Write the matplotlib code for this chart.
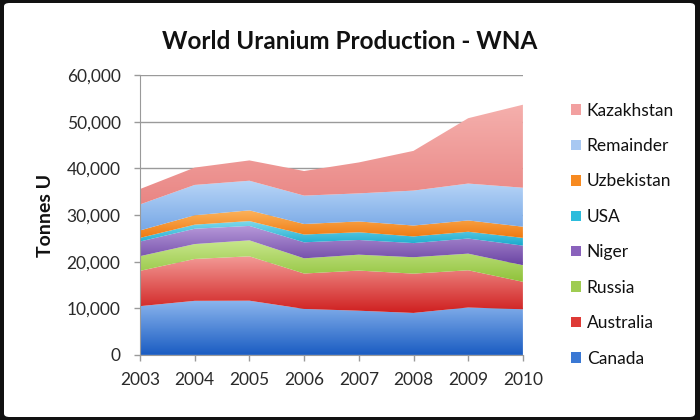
import matplotlib
matplotlib.use("Agg")
import matplotlib.pyplot as plt
import numpy as np
from matplotlib.colors import LinearSegmentedColormap
from matplotlib.patches import FancyBboxPatch

plt.rcParams['font.family'] = ['Lato', 'DejaVu Sans']

years = [2003, 2004, 2005, 2006, 2007, 2008, 2009, 2010]

# tonnes U, bottom to top of the stack
canada = [10457, 11597, 11628, 9862, 9476, 9000, 10173, 9783]
australia = [7572, 8982, 9516, 7593, 8611, 8430, 7982, 5900]
russia = [3150, 3200, 3431, 3262, 3413, 3521, 3564, 3562]
niger = [3143, 3282, 3093, 3434, 3153, 3032, 3243, 4198]
usa = [779, 878, 1039, 1672, 1654, 1430, 1453, 1660]
uzbekistan = [1598, 2016, 2300, 2260, 2320, 2338, 2429, 2400]
remainder = [5575, 6504, 6355, 6082, 6018, 7492, 7908, 8357]
kazakhstan = [3300, 3719, 4357, 5279, 6637, 8521, 14020, 17803]

series = ["Canada", "Australia", "Russia", "Niger", "USA", "Uzbekistan", "Remainder", "Kazakhstan"]
values = [canada, australia, russia, niger, usa, uzbekistan, remainder, kazakhstan]
# (bottom colour, top colour) of each gradient
grads = [
    ("#1a5cc2", "#8cb6ee"),
    ("#cf1f1f", "#f39a96"),
    ("#8fc23a", "#c8e68c"),
    ("#6a44a3", "#b89ada"),
    ("#17a9cc", "#7fd8ec"),
    ("#f07a10", "#fbb25c"),
    ("#78a8e6", "#b9d6f7"),
    ("#e98684", "#f5b0ad"),
]
legend_cols = ["#3a78d4", "#de3a36", "#9fcc52", "#8a62bc", "#2cbcdc", "#f78a20", "#a8c8f2", "#f2a0a0"]

fig = plt.figure(figsize=(7, 4.2), dpi=100)
fig.patch.set_facecolor("#111111")
fig.patches.append(FancyBboxPatch((4 / 700, 3 / 420), 691 / 700, 414 / 420,
                                  boxstyle="round,pad=0,rounding_size=0.008",
                                  transform=fig.transFigure, facecolor="white",
                                  edgecolor="none", zorder=-5))
ax = fig.add_axes([0.2, 0.155, 0.547, 0.666])
ax.set_facecolor("none")

x = np.array(years, dtype=float)
bottom = np.zeros(len(years))
handles = []
for name, v, (c0, c1), lc in zip(series, values, grads, legend_cols):
    top = bottom + np.array(v)
    poly = ax.fill_between(x, bottom, top, facecolor="none", edgecolor="none", zorder=2)
    cmap = LinearSegmentedColormap.from_list(name, [c0, c1])
    ymin, ymax = bottom.min(), top.max()
    grad = np.linspace(0, 1, 256).reshape(-1, 1)
    im = ax.imshow(grad, cmap=cmap, origin="lower", aspect="auto",
                   extent=(x[0], x[-1], ymin, ymax), zorder=2, interpolation="bicubic")
    im.set_clip_path(poly.get_paths()[0], transform=ax.transData)
    handles.append(plt.Rectangle((0, 0), 1, 1, facecolor=lc, edgecolor="none"))
    bottom = top

ax.set_xlim(years[0], years[-1])
ax.set_ylim(0, 60000)
ax.set_xticks(years)
ax.set_xticklabels([str(y) for y in years], fontsize=12.5, color="#2a2a2a")
ax.set_yticks(range(0, 60001, 10000))
ax.set_yticklabels(["{:,}".format(v) for v in range(0, 60001, 10000)], fontsize=12.5, color="#2a2a2a")
ax.grid(axis="y", color="#9a9a9a", linewidth=1, zorder=0)
ax.set_axisbelow(True)
for s in ("top", "right"):
    ax.spines[s].set_visible(False)
for s in ("left", "bottom"):
    ax.spines[s].set_color("#9a9a9a")
ax.tick_params(axis="both", color="#9a9a9a", length=4, width=1)
ax.tick_params(axis="x", pad=8)
ax.tick_params(axis="y", pad=10)
ax.set_ylabel("Tonnes U", fontsize=14, fontweight="bold", labelpad=9, color="#111111")
ax.set_title("World Uranium Production - WNA", fontsize=17.5, fontweight="bold", pad=19,
             color="#111111", x=0.548)

leg = ax.legend(handles[::-1], series[::-1], loc="center left", bbox_to_anchor=(1.085, 0.43),
                frameon=False, fontsize=12.5, handlelength=0.55, handleheight=0.55,
                handletextpad=0.35, labelspacing=1.12)
for t in leg.get_texts():
    t.set_color("#111111")

fig.savefig("out.png", dpi=100)
plt.close(fig)
